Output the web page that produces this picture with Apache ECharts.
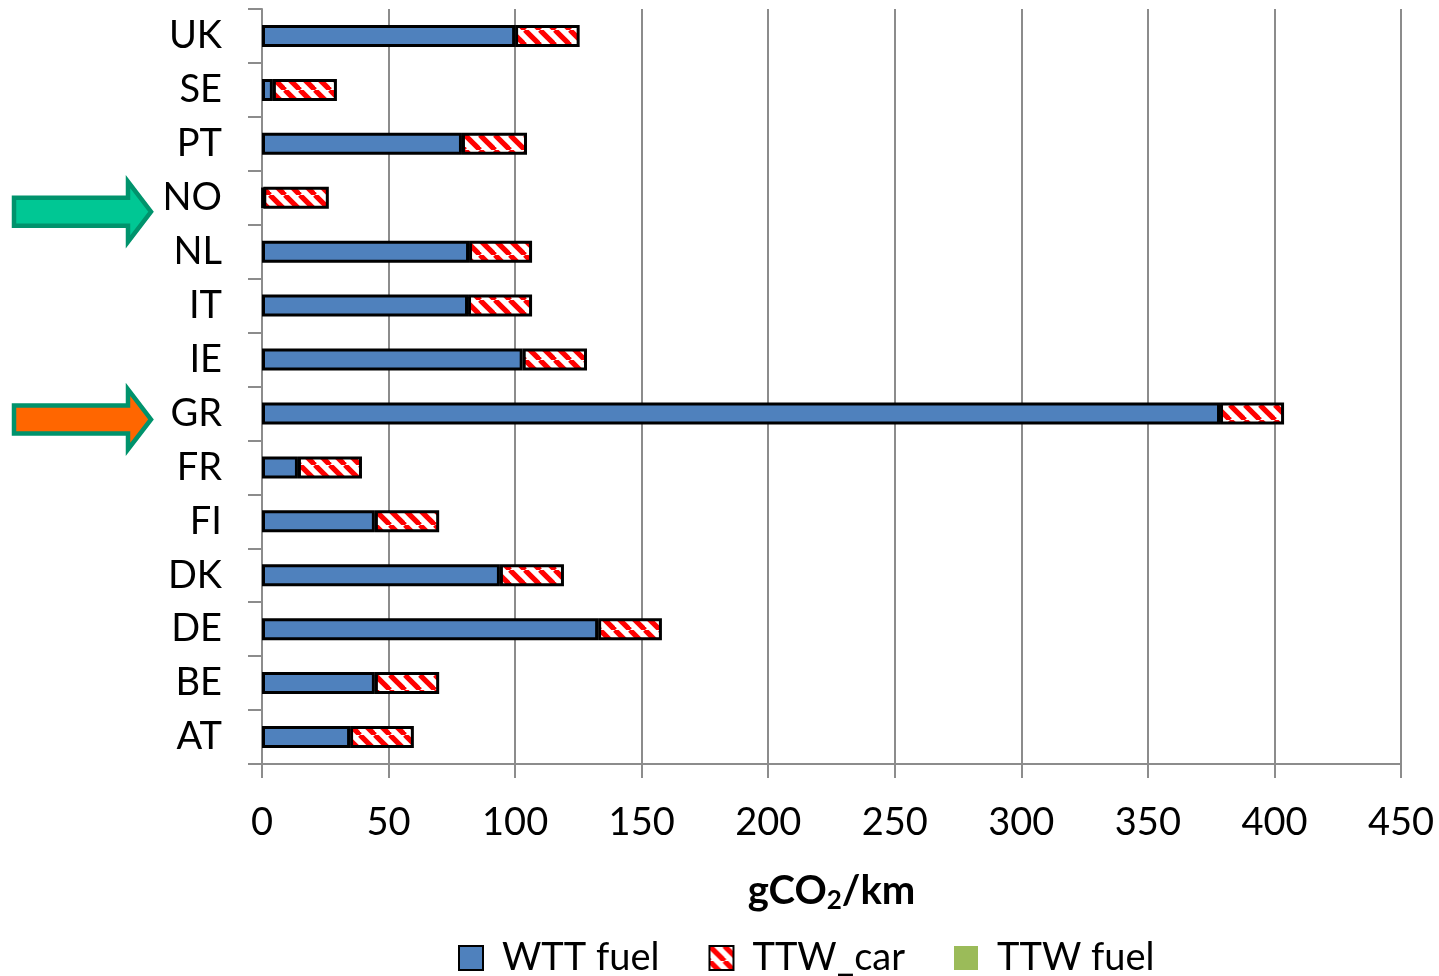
<!DOCTYPE html>
<html>
<head>
<meta charset="utf-8">
<script src="https://cdn.jsdelivr.net/npm/echarts@6/dist/echarts.min.js"></script>
<style>
  html, body { margin: 0; padding: 0; background: #fff; }
  #chart { width: 1439px; height: 976px; }
</style>
</head>
<body>
<div id="chart"></div>
<script>
// Countries, top to bottom
const countries = ['UK', 'SE', 'PT', 'NO', 'NL', 'IT', 'IE', 'GR', 'FR', 'FI', 'DK', 'DE', 'BE', 'AT'];
// Well-to-tank emissions of the electricity used (gCO2/km)
const wttFuel = [100, 4.3, 79, 0.5, 81.8, 81.4, 103, 378.5, 14.2, 44.6, 94, 132.8, 44.6, 34.8];
// Tank-to-wheel share attributed to the car
const ttwCar = [25.5, 25.3, 25.7, 25.9, 24.9, 25.3, 25.4, 25.3, 25.3, 25.4, 25.3, 25.2, 25.4, 25.2];
// Tank-to-wheel fuel emissions (none for battery cars)
const ttwFuel = [0, 0, 0, 0, 0, 0, 0, 0, 0, 0, 0, 0, 0, 0];
const xTicks = [0, 50, 100, 150, 200, 250, 300, 350, 400, 450];
// Highlighted countries, arrow fills and vertical nudge of each arrow
const highlights = [
  { country: 'NO', fill: '#00c794', dy: 14 },
  { country: 'GR', fill: '#ff6600', dy: 6 }
];

const FONT = 'Lato, "Open Sans", sans-serif';

// red diagonal hatching
function makeHatch() {
  const s = 15;
  const c = document.createElement('canvas');
  c.width = s; c.height = s;
  const g = c.getContext('2d');
  g.fillStyle = '#ffffff';
  g.fillRect(0, 0, s, s);
  g.strokeStyle = '#ff0000';
  g.lineWidth = 5.2;
  for (const x0 of [-s, 0, s]) {
    g.beginPath();
    g.moveTo(x0, 0);
    g.lineTo(x0 + s, s);
    g.stroke();
  }
  return c;
}
const hatch = { image: makeHatch(), repeat: 'repeat' };

const chart = echarts.init(document.getElementById('chart'), null, { renderer: 'canvas' });

const barBase = {
  type: 'bar',
  stack: 'total',
  barWidth: 22,
  animation: false
};

chart.setOption({
  backgroundColor: '#ffffff',
  animation: false,
  grid: { left: 262, right: 38, top: 9, bottom: 212, containLabel: false },
  xAxis: {
    type: 'value',
    min: xTicks[0],
    max: xTicks[xTicks.length - 1],
    interval: xTicks[1] - xTicks[0],
    axisLine: { show: true, lineStyle: { color: '#8c8c8c', width: 2 } },
    axisTick: { show: true, length: 14, lineStyle: { color: '#8c8c8c', width: 2 } },
    splitLine: { show: true, lineStyle: { color: '#8c8c8c', width: 2 } },
    axisLabel: { color: '#000', fontSize: 38, fontFamily: FONT, margin: 40 },
    name: '{a|gCO}{s|2}{a|/km}',
    nameLocation: 'middle',
    nameGap: 104,
    nameTextStyle: {
      rich: {
        a: { fontSize: 40, fontWeight: 'bold', fontFamily: FONT, color: '#000' },
        s: { fontSize: 26, fontWeight: 'bold', fontFamily: FONT, color: '#000', padding: [20, 0, 0, 0] }
      }
    }
  },
  yAxis: {
    type: 'category',
    data: countries,
    inverse: true,
    axisLine: { show: true, lineStyle: { color: '#8c8c8c', width: 2 } },
    axisTick: { show: true, length: 14, alignWithLabel: false, lineStyle: { color: '#8c8c8c', width: 2 } },
    axisLabel: { color: '#000', fontSize: 38, fontFamily: FONT, margin: 40 }
  },
  legend: {
    left: 458,
    top: 939,
    padding: 0,
    itemWidth: 24,
    itemHeight: 24,
    itemGap: 49,
    icon: 'rect',
    textStyle: { color: '#000', fontSize: 38, fontFamily: FONT, padding: [0, 0, 0, 14] },
    data: ['WTT fuel', 'TTW_car', 'TTW fuel']
  },
  series: [
    Object.assign({}, barBase, {
      name: 'WTT fuel',
      data: wttFuel,
      itemStyle: { color: '#4f81bd', borderColor: '#000', borderWidth: 3 }
    }),
    Object.assign({}, barBase, {
      name: 'TTW_car',
      data: ttwCar,
      itemStyle: { color: hatch, borderColor: '#000', borderWidth: 3 }
    }),
    Object.assign({}, barBase, {
      name: 'TTW fuel',
      data: ttwFuel,
      itemStyle: { color: '#9bbb59', borderWidth: 0 }
    })
  ]
});

// Block arrows pointing at the highlighted country labels
function arrowPoints(tipX, cy) {
  const tailX = 14, headX = 128;
  const shaftHalf = 14, headHalf = 30;
  return [
    [tailX, cy - shaftHalf], [headX, cy - shaftHalf], [headX, cy - headHalf],
    [tipX, cy], [headX, cy + headHalf], [headX, cy + shaftHalf], [tailX, cy + shaftHalf]
  ];
}
const arrows = highlights.map(h => {
  const cy = chart.convertToPixel({ yAxisIndex: 0 }, h.country) + h.dy;
  return {
    type: 'polygon',
    shape: { points: arrowPoints(151, cy) },
    style: { fill: h.fill, stroke: '#00936c', lineWidth: 4.5, lineJoin: 'miter' },
    z: 10
  };
});
chart.setOption({ graphic: arrows });
</script>
</body>
</html>
